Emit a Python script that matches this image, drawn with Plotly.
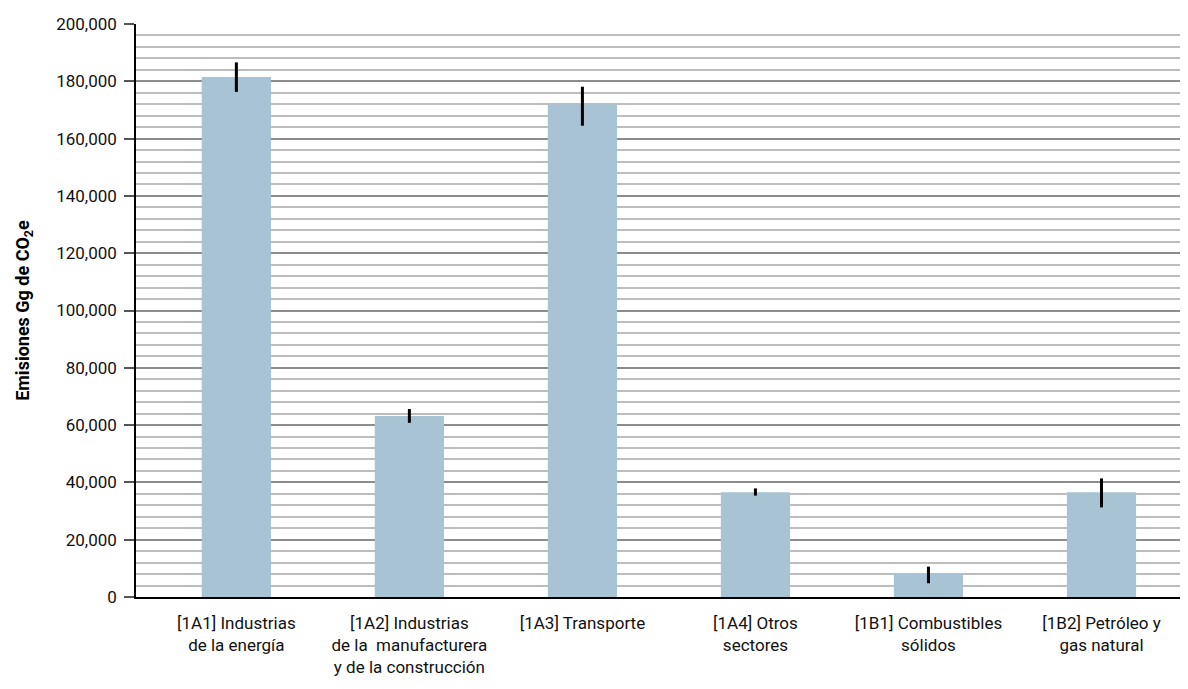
import plotly.graph_objects as go

categories = [
    "[1A1] Industrias<br>de la energía",
    "[1A2] Industrias<br>de la\u00a0 manufacturera<br>y de la construcción",
    "[1A3] Transporte",
    "[1A4] Otros<br>sectores",
    "[1B1] Combustibles<br>sólidos",
    "[1B2] Petróleo y<br>gas natural",
]
values = [181500, 63200, 172000, 36600, 8000, 36600]
err_plus = [5100, 2400, 6100, 1300, 2600, 4800]
err_minus = [5200, 2400, 7500, 1200, 3200, 5300]
y_ticks = list(range(0, 200001, 20000))
y_ticklabels = [f"{v:,}" for v in y_ticks]

FONT = "Roboto"

fig = go.Figure()
fig.add_trace(go.Bar(
    x=list(range(len(categories))),
    y=values,
    marker=dict(color="#A7C3D4", line=dict(width=0)),
    error_y=dict(type="data", symmetric=False, array=err_plus, arrayminus=err_minus,
                 color="black", thickness=3, width=0),
    width=0.4,
))

fig.update_layout(
    width=1180, height=681,
    margin=dict(l=128, r=0, t=16, b=92),
    plot_bgcolor="white", paper_bgcolor="white",
    showlegend=False,
    font=dict(family=FONT, size=17, color="black"),
    xaxis=dict(
        range=[-0.58, 5.5],
        tickmode="array",
        tickvals=list(range(len(categories))),
        ticktext=categories,
        showline=True, linecolor="black", linewidth=1.5,
        ticks="", showgrid=False,
        tickfont=dict(family=FONT, size=17, color="#111"),
        ticklabelstandoff=10,
        zeroline=False,
    ),
    yaxis=dict(
        range=[0, 200000],
        tickmode="array",
        tickvals=y_ticks,
        ticktext=y_ticklabels,
        showline=True, linecolor="black", linewidth=1.5,
        ticks="outside", ticklen=10, tickcolor="#555", tickwidth=2,
        showgrid=True, gridcolor="#8c8c8c", gridwidth=1.5,
        minor=dict(dtick=4000, showgrid=True, gridcolor="#bdbdbd", gridwidth=1.5, ticks=""),
        zeroline=False,
        ticklabelstandoff=4,
        tickfont=dict(family=FONT, size=17, color="#111"),
        title=dict(text="<b>Emisiones Gg de CO<sub>2</sub>e</b>", font=dict(family=FONT, size=18), standoff=22),
    ),
)

fig.write_html("out.html")
